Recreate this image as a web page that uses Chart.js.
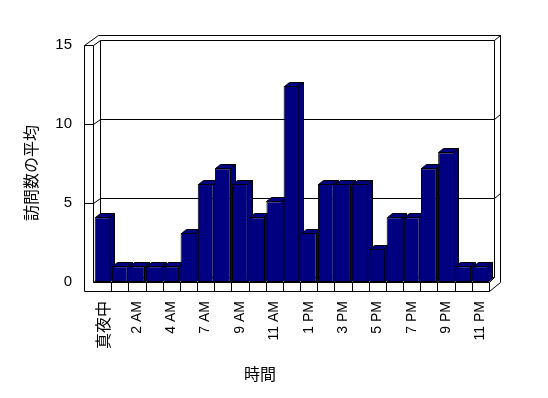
<!DOCTYPE html>
<html>
<head>
<meta charset="utf-8">
<script src="https://cdn.jsdelivr.net/npm/chart.js@4/dist/chart.umd.min.js"></script>
<style>
  html, body { margin: 0; padding: 0; background: #fff; }
  canvas { display: block; }
</style>
</head>
<body>
<canvas id="c" width="548" height="398"></canvas>
<script>
// ---- data ----
const hours = ['真夜中','1 AM','2 AM','3 AM','4 AM','5 AM','7 AM','8 AM','9 AM','10 AM','11 AM','正午',
               '1 PM','2 PM','3 PM','4 PM','5 PM','6 PM','7 PM','8 PM','9 PM','10 PM','11 PM'];
const avgVisits = [4.1, 1, 1, 1, 1, 3.1, 6.2, 7.2, 6.2, 4.1, 5.1, 12.4,
                   3.1, 6.2, 6.2, 6.2, 2.1, 4.1, 4.1, 7.2, 8.2, 1, 1];
const yTicks = [0, 5, 10, 15];
const xTitle = '時間';
const yTitle = '訪問数の平均';

const LATIN = '"Liberation Sans", Arial, "Noto Sans CJK JP", sans-serif';
const CJK = '"Noto Sans CJK JP", "Liberation Sans", sans-serif';
const NAVY = '#000080';

const h = v => Math.round(v) + 0.5;

const framePlugin = {
  id: 'frame3d',
  beforeDatasetsDraw(chart) {
    const { ctx, chartArea: a, scales: { x, y } } = chart;
    const Y = v => y.getPixelForValue(v);
    const L0 = a.left - 10, L1 = a.left - 1;
    const BL = L1 + 7, BR = a.right + 5, OR = a.right + 11;
    const y15 = Y(yTicks[yTicks.length - 1]);
    const y0 = Y(0);
    const floorB = y0 + 9;
    ctx.save();
    ctx.strokeStyle = '#000';
    ctx.lineWidth = 1;
    const line = (pts) => {
      ctx.beginPath();
      ctx.moveTo(h(pts[0][0]), h(pts[0][1]));
      for (let i = 1; i < pts.length; i++) ctx.lineTo(h(pts[i][0]), h(pts[i][1]));
      ctx.stroke();
    };
    // left wall front face
    line([[L0, y15], [L0, floorB], [a.right, floorB], [a.right, y0], [L1, y0], [L1, y15], [L0, y15]]);
    // floor category dividers
    const n = hours.length;
    for (let k = 1; k < n; k++) {
      const xb = (x.getPixelForValue(k - 1) + x.getPixelForValue(k)) / 2;
      line([[xb, y0], [xb, floorB]]);
    }
    // right side of floor / back wall
    line([[a.right, floorB], [OR, y0]]);
    line([[a.right, y0], [BR, y0 - 5]]);
    line([[OR, y0], [OR, y15 - 10]]);
    line([[BR, y0 - 5], [BR, y15 - 5]]);
    // top edges
    line([[L0, y15], [L0 + 14, y15 - 10], [OR, y15 - 10]]);
    line([[L1, y15], [BL, y15 - 5], [BR, y15 - 5], [OR, y15 - 10]]);
    // back wall left edge
    line([[BL, y15 - 5], [BL, y0 - 5]]);
    // gridlines
    yTicks.forEach(v => {
      if (v === yTicks[yTicks.length - 1]) return;
      const gy = Y(v);
      if (v === 0) {
        line([[L1, gy], [BL, gy - 5], [BR, gy - 5]]);
      } else {
        line([[L0, gy], [L1, gy], [BL, gy - 5], [BR, gy - 5], [OR, gy - 10]]);
      }
    });
    // bar extrusions (top and right side), left to right
    const meta = chart.getDatasetMeta(0);
    const dX = 5, dY = -4;
    meta.data.forEach(bar => {
      const x0 = Math.round(bar.x - bar.width / 2), x1 = Math.round(bar.x + bar.width / 2) - 1;
      const yt = Math.round(bar.y), yb = Math.round(bar.base);
      ctx.fillStyle = NAVY;
      // side
      ctx.beginPath();
      ctx.moveTo(x1 + 0.5, yt + 0.5);
      ctx.lineTo(x1 + dX + 0.5, yt + dY + 0.5);
      ctx.lineTo(x1 + dX + 0.5, yb + dY + 0.5);
      ctx.lineTo(x1 + 0.5, yb + 0.5);
      ctx.closePath();
      ctx.fill(); ctx.stroke();
      // top
      ctx.beginPath();
      ctx.moveTo(x0 + 0.5, yt + 0.5);
      ctx.lineTo(x0 + dX + 0.5, yt + dY + 0.5);
      ctx.lineTo(x1 + dX + 0.5, yt + dY + 0.5);
      ctx.lineTo(x1 + 0.5, yt + 0.5);
      ctx.closePath();
      ctx.fill(); ctx.stroke();
    });
    ctx.restore();
  },
  afterDraw(chart) {
    const { ctx } = chart;
    ctx.save();
    ctx.fillStyle = '#000';
    ctx.font = '16px ' + CJK;
    ctx.textAlign = 'center';
    ctx.textBaseline = 'middle';
    ctx.fillText(xTitle, 260, 374);
    ctx.translate(31, 173);
    ctx.rotate(-Math.PI / 2);
    ctx.fillText(yTitle, 0, 0);
    ctx.restore();
  }
};

new Chart(document.getElementById('c'), {
  type: 'bar',
  data: {
    labels: hours,
    datasets: [{
      data: avgVisits,
      backgroundColor: NAVY,
      borderColor: '#000',
      borderWidth: 1,
      borderSkipped: false,
      categoryPercentage: 1,
      barPercentage: 0.92
    }]
  },
  options: {
    responsive: false,
    animation: false,
    devicePixelRatio: 1,
    layout: { padding: { left: 0, right: 59, top: 45, bottom: 0 } },
    plugins: { legend: { display: false }, tooltip: { enabled: false } },
    scales: {
      x: {
        grid: { display: false, drawTicks: false },
        border: { display: false },
        ticks: {
          autoSkip: false,
          maxRotation: 90,
          minRotation: 90,
          padding: 19,
          color: '#000',
          font: (c) => (c.index === 0 ? { family: CJK, size: 16 } : { family: LATIN, size: 14 }),
          callback: (v, i) => (i % 2 === 0 ? hours[i] : '')
        },
        afterFit: (s) => { s.height = 116; }
      },
      y: {
        min: 0,
        max: 15,
        grid: { display: false, drawTicks: false },
        border: { display: false },
        ticks: {
          stepSize: 5,
          padding: 22,
          color: '#000',
          font: { family: LATIN, size: 15 }
        },
        afterFit: (s) => { s.width = 94; }
      }
    }
  },
  plugins: [framePlugin]
});
</script>
</body>
</html>
